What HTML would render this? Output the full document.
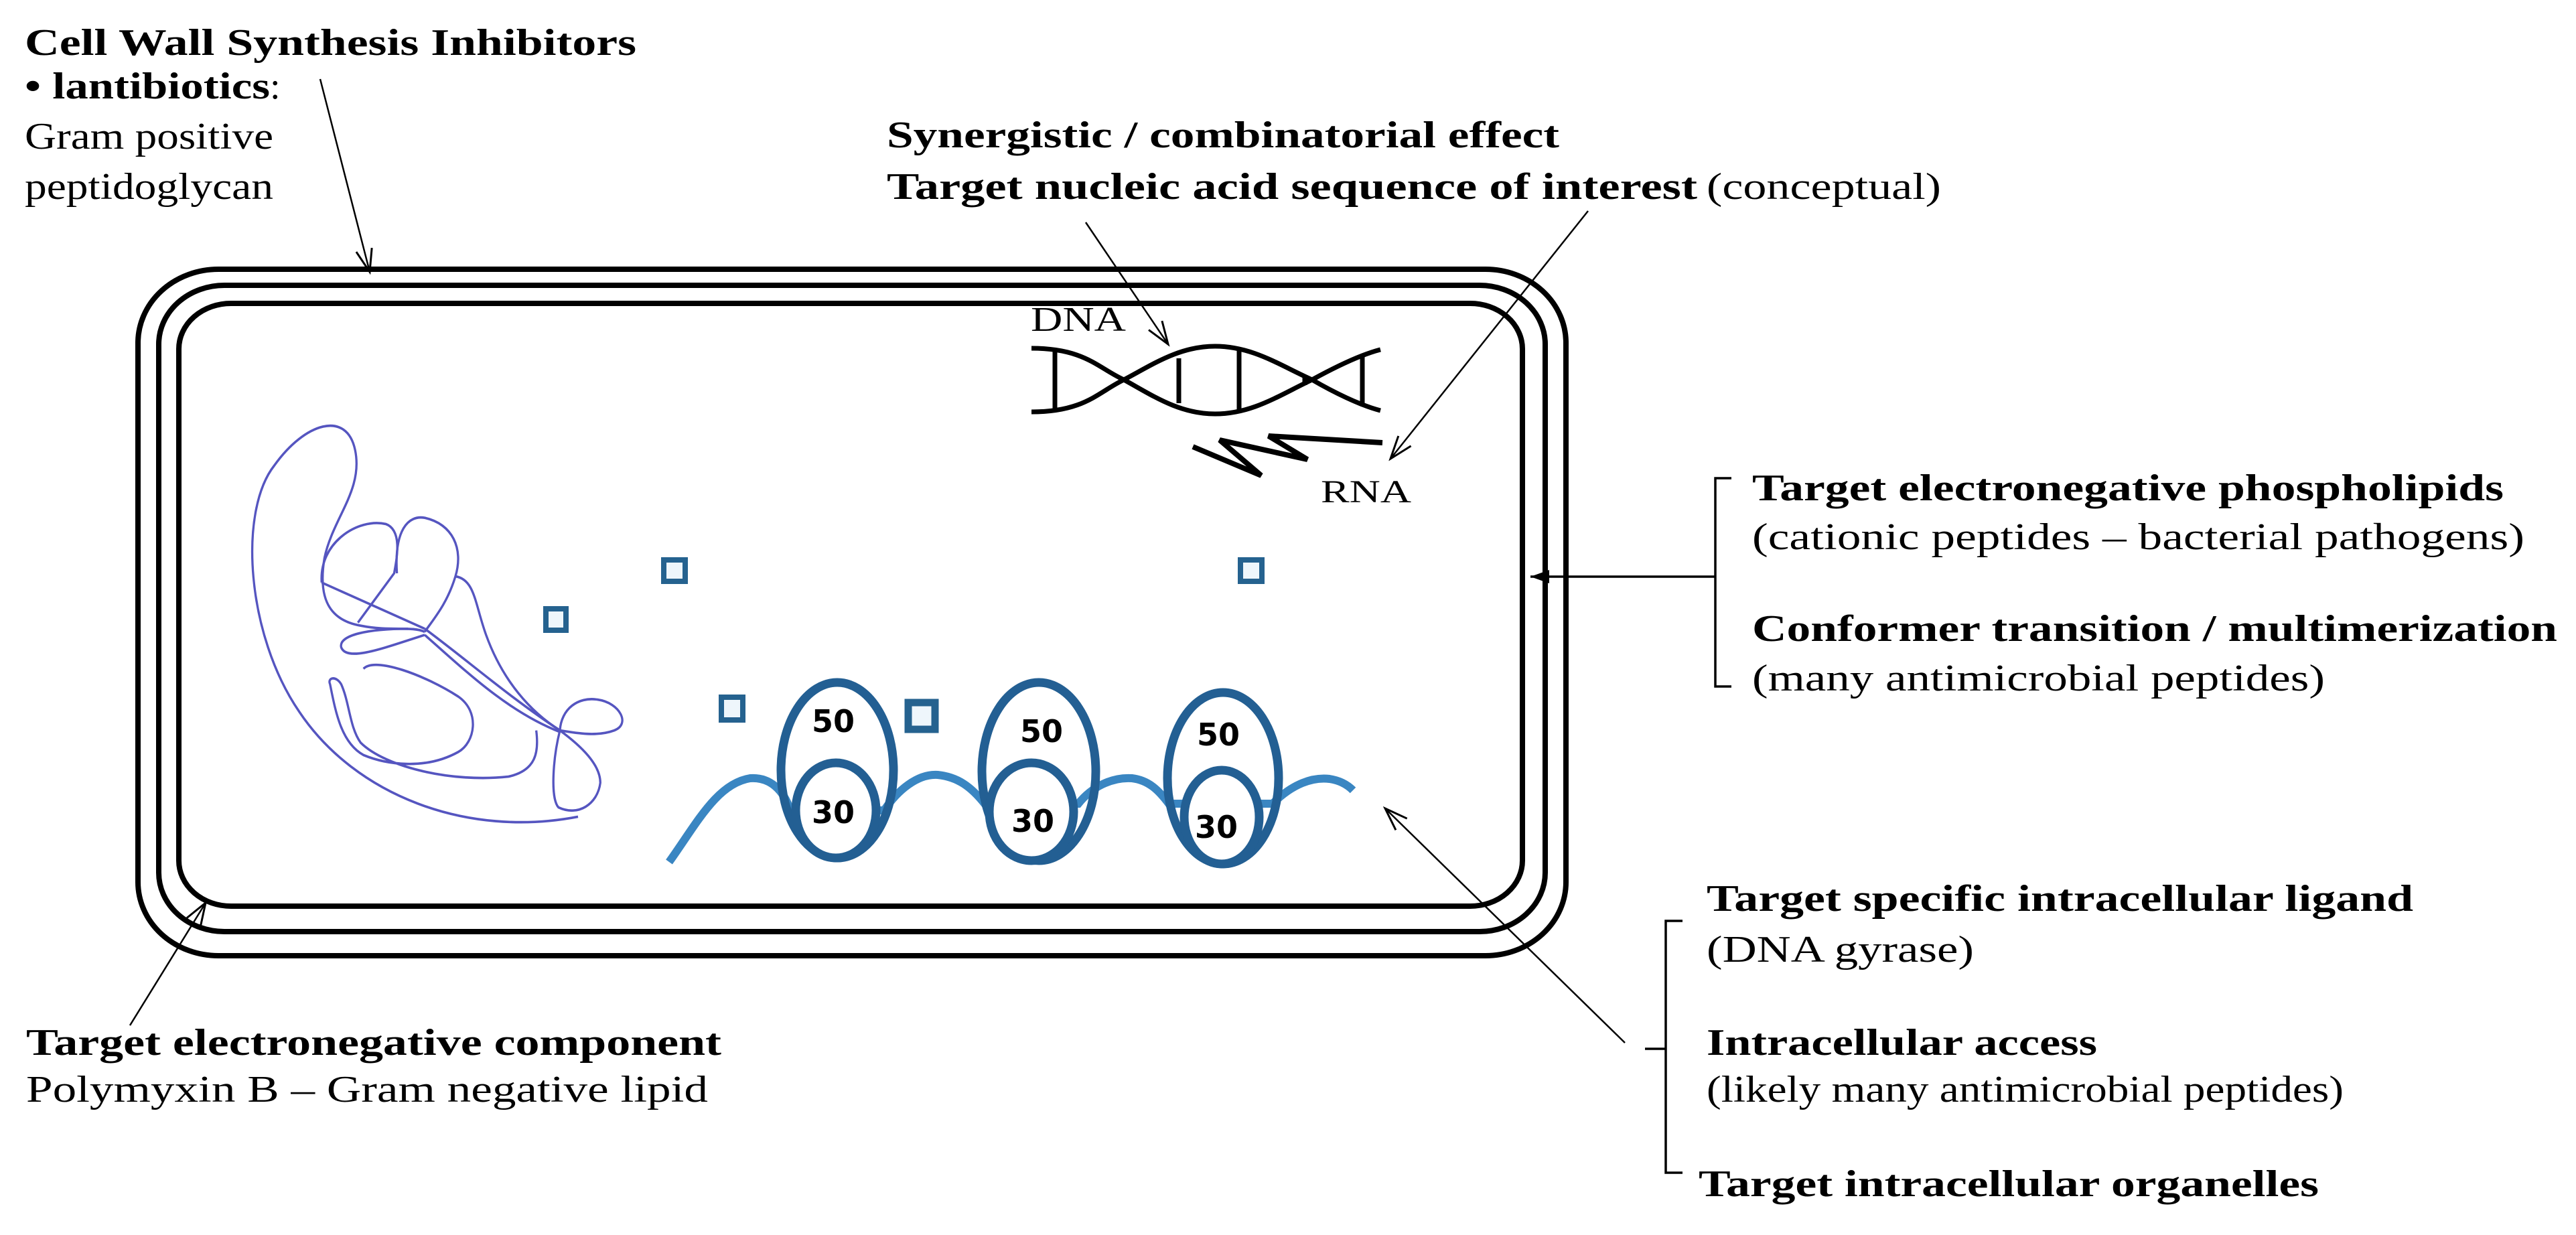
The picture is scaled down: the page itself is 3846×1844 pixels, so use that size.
<!DOCTYPE html>
<html><head><meta charset="utf-8"><style>
html,body{margin:0;padding:0;background:#fff;}
svg{display:block;}
text{font-family:"Liberation Serif","Times New Roman","DejaVu Serif",serif;fill:#000;}
.b{font-weight:bold;}
</style></head><body>
<svg width="3846" height="1844" viewBox="0 0 3846 1844" xmlns="http://www.w3.org/2000/svg">
<defs>
<marker id="oa" markerWidth="40" markerHeight="30" refX="36" refY="15" orient="auto" markerUnits="userSpaceOnUse">
<path d="M2 3 L36 15 L2 27" fill="none" stroke="#000" stroke-width="3"/>
</marker>
<marker id="fa" markerWidth="30" markerHeight="24" refX="28" refY="12" orient="auto" markerUnits="userSpaceOnUse">
<path d="M0 2 L28 12 L0 22 Z" fill="#000"/>
</marker>
</defs>

<!-- cell walls -->
<g fill="none" stroke="#000" stroke-width="8">
<rect x="206" y="402" width="2132" height="1025" rx="120" ry="110"/>
<rect x="237" y="426" width="2070" height="965" rx="98" ry="88"/>
<rect x="267" y="453" width="2006" height="900" rx="78" ry="68"/>
</g>

<!-- chromosome -->
<g transform="translate(343,534) scale(0.416,0.46)" fill="none" stroke="#5555c0" stroke-width="8">
<path d="M1250 1490 C850 1560 450 1420 250 1150 C60 900 30 500 160 350 C270 210 420 170 450 300 C480 430 370 520 340 650 C320 760 340 850 470 870 C580 890 650 870 700 890"/>
<path d="M330 730 C320 600 460 520 560 540 C620 560 600 650 590 700 L460 860"/>
<path d="M600 700 C590 560 640 510 700 520 C800 540 840 620 810 710 C780 800 730 850 700 890"/>
<path d="M700 880 C850 980 1000 1100 1185 1210"/>
<path d="M700 900 C850 1020 1000 1150 1185 1215"/>
<path d="M810 710 C880 720 880 800 920 900 C980 1050 1080 1150 1185 1210"/>
<path d="M330 730 L700 880"/>
<path d="M700 900 C560 940 420 990 400 940 C390 900 500 880 640 880"/>
<path d="M480 1010 C520 970 700 1030 820 1100 C900 1150 880 1250 820 1280 C700 1340 560 1320 480 1290 C400 1250 380 1150 360 1060 C350 1040 380 1030 400 1060 C430 1120 430 1200 470 1250 C560 1330 800 1380 1000 1360 C1100 1340 1110 1280 1100 1210"/>
<path d="M1185 1210 C1190 1140 1250 1100 1320 1110 C1400 1120 1440 1190 1380 1210 C1320 1230 1250 1220 1185 1210 C1260 1260 1330 1320 1330 1380 C1320 1450 1250 1490 1180 1460 C1150 1430 1160 1300 1185 1210"/>
</g>

<!-- small squares -->
<g fill="#eef6fb" stroke="#25628f" stroke-width="8">
<rect x="815" y="909" width="30" height="32"/>
<rect x="991" y="836" width="32" height="32"/>
<rect x="1852" y="836" width="32" height="32"/>
<rect x="1077" y="1041" width="32" height="34"/>
<rect x="1356" y="1049" width="40" height="40" stroke-width="11"/>
</g>

<!-- mRNA -->
<path d="M999 1287 C1040 1230 1070 1170 1120 1162 C1150 1160 1170 1180 1180 1210 L1320 1210 C1340 1180 1370 1155 1400 1157 C1430 1160 1450 1175 1470 1200 L1610 1200 C1630 1175 1660 1160 1690 1162 C1715 1165 1730 1180 1745 1200 L1900 1200 C1930 1170 1960 1160 1985 1163 C2005 1166 2015 1175 2020 1180" fill="none" stroke="#3a86c2" stroke-width="12"/>

<!-- ribosomes -->
<g stroke="#235f93" stroke-width="13" fill="none">
<ellipse cx="1250" cy="1150" rx="84" ry="131"/>
<ellipse cx="1248" cy="1210" rx="60" ry="71" fill="#fff"/>
<ellipse cx="1551" cy="1152" rx="85" ry="133"/>
<ellipse cx="1540" cy="1212" rx="63" ry="73" fill="#fff"/>
<ellipse cx="1826" cy="1162" rx="83" ry="128"/>
<ellipse cx="1824" cy="1220" rx="56" ry="70" fill="#fff"/>
</g>
<g font-weight="bold" font-size="46" text-anchor="middle">
<text x="1244" y="1093" style="font-family:'DejaVu Sans',sans-serif">50</text>
<text x="1244" y="1229" style="font-family:'DejaVu Sans',sans-serif">30</text>
<text x="1555" y="1108" style="font-family:'DejaVu Sans',sans-serif">50</text>
<text x="1542" y="1242" style="font-family:'DejaVu Sans',sans-serif">30</text>
<text x="1819" y="1113" style="font-family:'DejaVu Sans',sans-serif">50</text>
<text x="1816" y="1251" style="font-family:'DejaVu Sans',sans-serif">30</text>
</g>

<!-- DNA helix -->
<g fill="none" stroke="#000" stroke-width="7">
<path d="M1540 520 C1620 520 1640 550 1678 567 C1720 590 1760 618 1814 618 C1870 618 1910 590 1959 567 C1990 550 2030 530 2061 522"/>
<path d="M1540 615 C1620 615 1640 585 1678 567 C1720 545 1760 517 1814 517 C1870 517 1910 545 1959 567 C1990 585 2030 605 2061 613"/>
<line x1="1575" y1="522" x2="1575" y2="613"/>
<line x1="1760" y1="535" x2="1760" y2="602"/>
<line x1="1850" y1="519" x2="1850" y2="616"/>
<line x1="1948" y1="560" x2="1948" y2="575"/>
<line x1="2034" y1="532" x2="2034" y2="603"/>
</g>
<!-- RNA zigzag -->
<path d="M1781 667 L1883 710 L1821 657 L1952 686 L1894 651 L2064 661" fill="none" stroke="#000" stroke-width="8" stroke-linejoin="miter"/>

<text x="1539" y="494" font-size="52" textLength="142" lengthAdjust="spacingAndGlyphs">DNA</text>
<text x="1972" y="750" font-size="48" textLength="135" lengthAdjust="spacingAndGlyphs">RNA</text>

<!-- arrows -->
<g stroke="#000" stroke-width="2.5" fill="none">
<line x1="478" y1="118" x2="552" y2="406" marker-end="url(#oa)"/>
<line x1="1621" y1="332" x2="1744" y2="514" marker-end="url(#oa)"/>
<line x1="2371" y1="315" x2="2076" y2="685" marker-end="url(#oa)"/>
<line x1="194" y1="1531" x2="307" y2="1348" marker-end="url(#oa)"/>
<line x1="2426" y1="1557" x2="2068" y2="1207" marker-end="url(#oa)"/>
<line x1="2536" y1="861" x2="2285" y2="861" stroke-width="3.5" marker-end="url(#fa)"/>
</g>

<!-- brackets -->
<g stroke="#000" stroke-width="3.5" fill="none">
<path d="M2585 714 L2561 714 L2561 1025 L2585 1025"/>
<line x1="2536" y1="861" x2="2561" y2="861"/>
<path d="M2512 1375 L2487 1375 L2487 1751 L2512 1751"/>
<line x1="2456" y1="1566" x2="2487" y2="1566"/>
</g>

<!-- text labels -->
<g font-size="56">
<text class="b" x="37" y="82" textLength="913" lengthAdjust="spacingAndGlyphs">Cell Wall Synthesis Inhibitors</text>
<text class="b" x="37" y="147" textLength="366" lengthAdjust="spacingAndGlyphs">• lantibiotics</text>
<text x="403" y="147">:</text>
<text x="37" y="222" textLength="371" lengthAdjust="spacingAndGlyphs">Gram positive</text>
<text x="37" y="297" textLength="371" lengthAdjust="spacingAndGlyphs">peptidoglycan</text>

<text class="b" x="1324" y="220" textLength="1004" lengthAdjust="spacingAndGlyphs">Synergistic / combinatorial effect</text>
<text class="b" x="1324" y="297" textLength="1210" lengthAdjust="spacingAndGlyphs">Target nucleic acid sequence of interest</text>
<text x="2548" y="297" textLength="350" lengthAdjust="spacingAndGlyphs">(conceptual)</text>

<text class="b" x="2616" y="747" textLength="1122" lengthAdjust="spacingAndGlyphs">Target electronegative phospholipids</text>
<text x="2616" y="820" textLength="1153" lengthAdjust="spacingAndGlyphs">(cationic peptides – bacterial pathogens)</text>
<text class="b" x="2616" y="957" textLength="1202" lengthAdjust="spacingAndGlyphs">Conformer transition / multimerization</text>
<text x="2616" y="1031" textLength="855" lengthAdjust="spacingAndGlyphs">(many antimicrobial peptides)</text>

<text class="b" x="2548" y="1360" textLength="1055" lengthAdjust="spacingAndGlyphs">Target specific intracellular ligand</text>
<text x="2548" y="1436" textLength="399" lengthAdjust="spacingAndGlyphs">(DNA gyrase)</text>
<text class="b" x="2548" y="1575" textLength="583" lengthAdjust="spacingAndGlyphs">Intracellular access</text>
<text x="2548" y="1645" textLength="951" lengthAdjust="spacingAndGlyphs">(likely many antimicrobial peptides)</text>
<text class="b" x="2536" y="1786" textLength="926" lengthAdjust="spacingAndGlyphs">Target intracellular organelles</text>

<text class="b" x="39" y="1575" textLength="1038" lengthAdjust="spacingAndGlyphs">Target electronegative component</text>
<text x="39" y="1645" textLength="1018" lengthAdjust="spacingAndGlyphs">Polymyxin B – Gram negative lipid</text>
</g>
</svg>
</body></html>
